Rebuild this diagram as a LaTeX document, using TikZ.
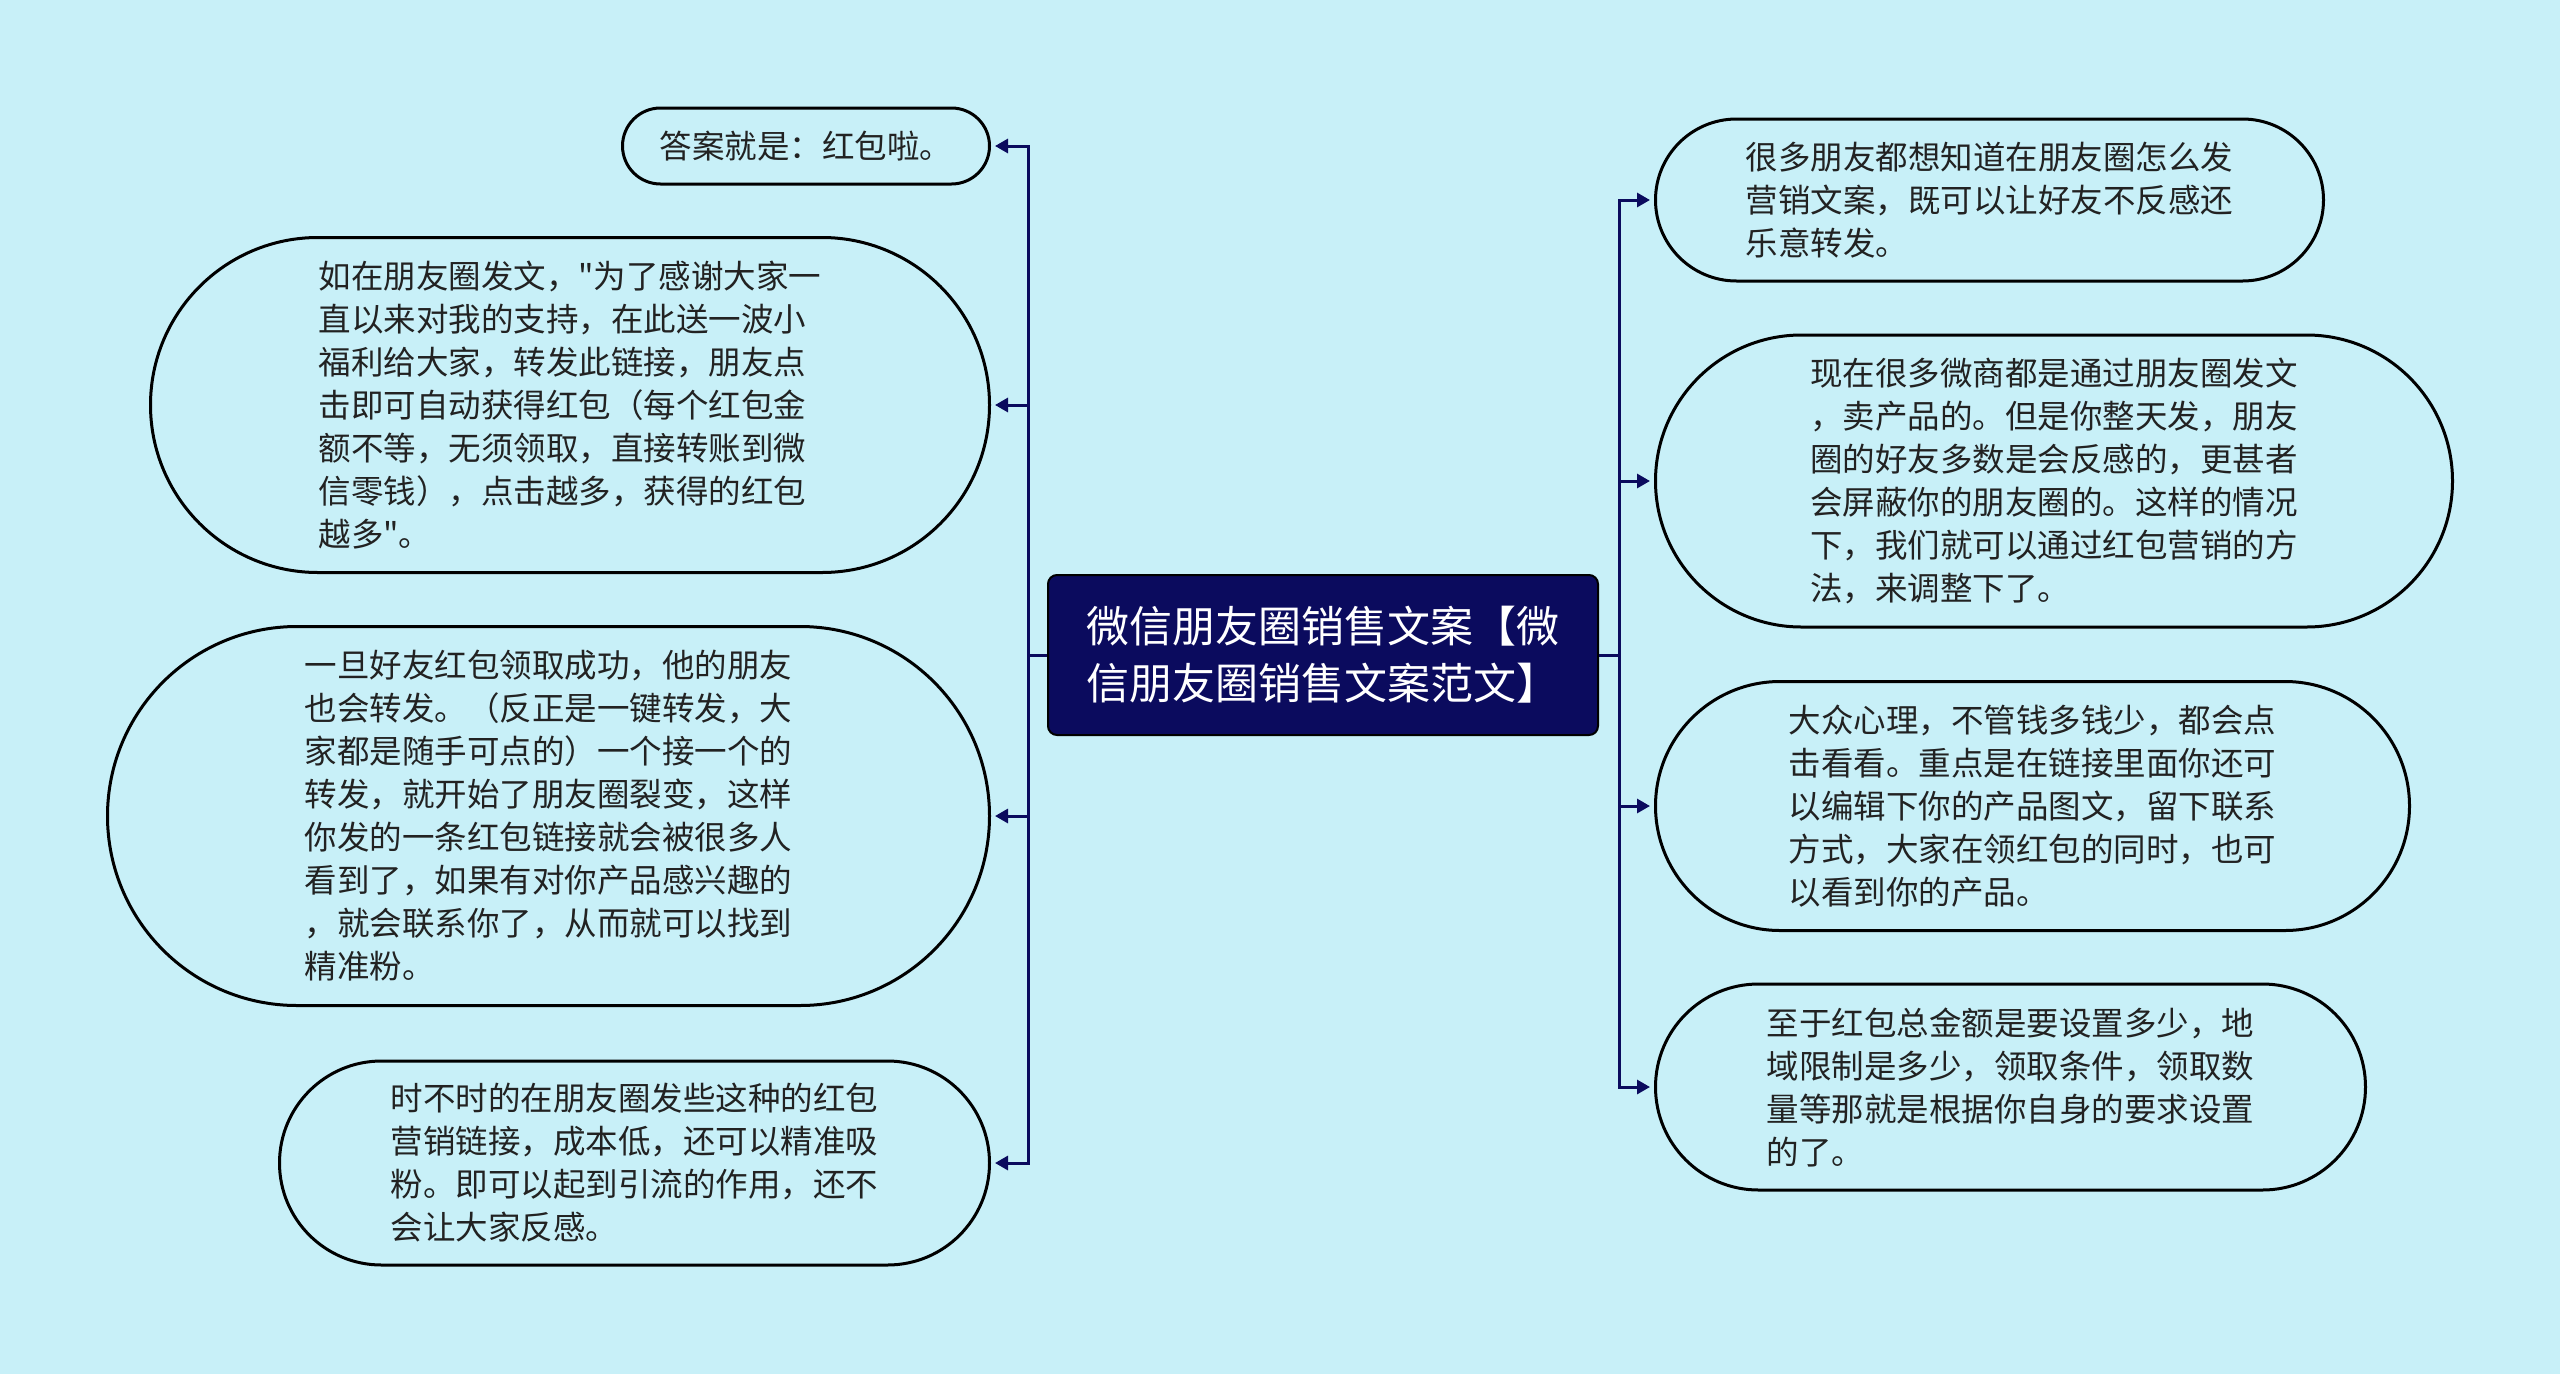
\documentclass[tikz,border=0pt]{standalone}
\usepackage{fontspec}
\setmainfont{Noto Sans CJK SC}[Ligatures=TeXOff]
\usetikzlibrary{shapes.misc,arrows.meta}
\definecolor{bg}{HTML}{C8F0F8}
\definecolor{navy}{HTML}{0B0B5E}
\definecolor{txt}{HTML}{222222}
\begin{document}
\begin{tikzpicture}[x=1pt,y=-1pt,
  leaf/.style={rounded rectangle, draw=black, line width=3pt, fill=bg, text=txt,
    font=\fontsize{32.5}{43}\selectfont, align=left, inner sep=0pt},
  rootbox/.style={rectangle, rounded corners=9pt, draw=black, line width=2pt, fill=navy,
    text=white, font=\fontsize{43}{57}\selectfont, align=left,
    minimum width=550pt, minimum height=160pt},
  link/.style={draw=navy, line width=3pt, -{Triangle[length=13pt,width=14pt]}, shorten >=4pt}]
\fill[bg] (0,0) rectangle (2560,1374);
\useasboundingbox (0,0) rectangle (2560,1374);

\node[rootbox] (root) at (1323,655) {微信朋友圈销售文案【微\\信朋友圈销售文案范文】};

\node[leaf, anchor=east, minimum width=367pt, minimum height=76pt] (L1) at (991,146)
  {答案就是：红包啦。};
\node[leaf, anchor=east, minimum width=839pt, minimum height=335pt] (L2) at (991,405)
  {如在朋友圈发文，"为了感谢大家一\\直以来对我的支持，在此送一波小\\福利给大家，转发此链接，朋友点\\击即可自动获得红包（每个红包金\\额不等，无须领取，直接转账到微\\信零钱），点击越多，获得的红包\\越多"。};
\node[leaf, anchor=east, minimum width=882pt, minimum height=379pt] (L3) at (991,816)
  {一旦好友红包领取成功，他的朋友\\也会转发。（反正是一键转发，大\\家都是随手可点的）一个接一个的\\转发，就开始了朋友圈裂变，这样\\你发的一条红包链接就会被很多人\\看到了，如果有对你产品感兴趣的\\，就会联系你了，从而就可以找到\\精准粉。};
\node[leaf, anchor=east, minimum width=710pt, minimum height=204pt] (L4) at (991,1163)
  {时不时的在朋友圈发些这种的红包\\营销链接，成本低，还可以精准吸\\粉。即可以起到引流的作用，还不\\会让大家反感。};

\node[leaf, anchor=west, minimum width=668pt, minimum height=162pt] (R1) at (1654,200)
  {很多朋友都想知道在朋友圈怎么发\\营销文案，既可以让好友不反感还\\乐意转发。};
\node[leaf, anchor=west, minimum width=797pt, minimum height=292pt] (R2) at (1654,481)
  {现在很多微商都是通过朋友圈发文\\，卖产品的。但是你整天发，朋友\\圈的好友多数是会反感的，更甚者\\会屏蔽你的朋友圈的。这样的情况\\下，我们就可以通过红包营销的方\\法，来调整下了。};
\node[leaf, anchor=west, minimum width=754pt, minimum height=249pt] (R3) at (1654,806)
  {大众心理，不管钱多钱少，都会点\\击看看。重点是在链接里面你还可\\以编辑下你的产品图文，留下联系\\方式，大家在领红包的同时，也可\\以看到你的产品。};
\node[leaf, anchor=west, minimum width=710pt, minimum height=206pt] (R4) at (1654,1087)
  {至于红包总金额是要设置多少，地\\域限制是多少，领取条件，领取数\\量等那就是根据你自身的要求设置\\的了。};

\foreach \n in {L1,L2,L3,L4}
  \draw[link] (root.west) -- ++(-19,0) |- (\n.east);
\foreach \n in {R1,R2,R3,R4}
  \draw[link] (root.east) -- ++(20,0) |- (\n.west);
\end{tikzpicture}
\end{document}
